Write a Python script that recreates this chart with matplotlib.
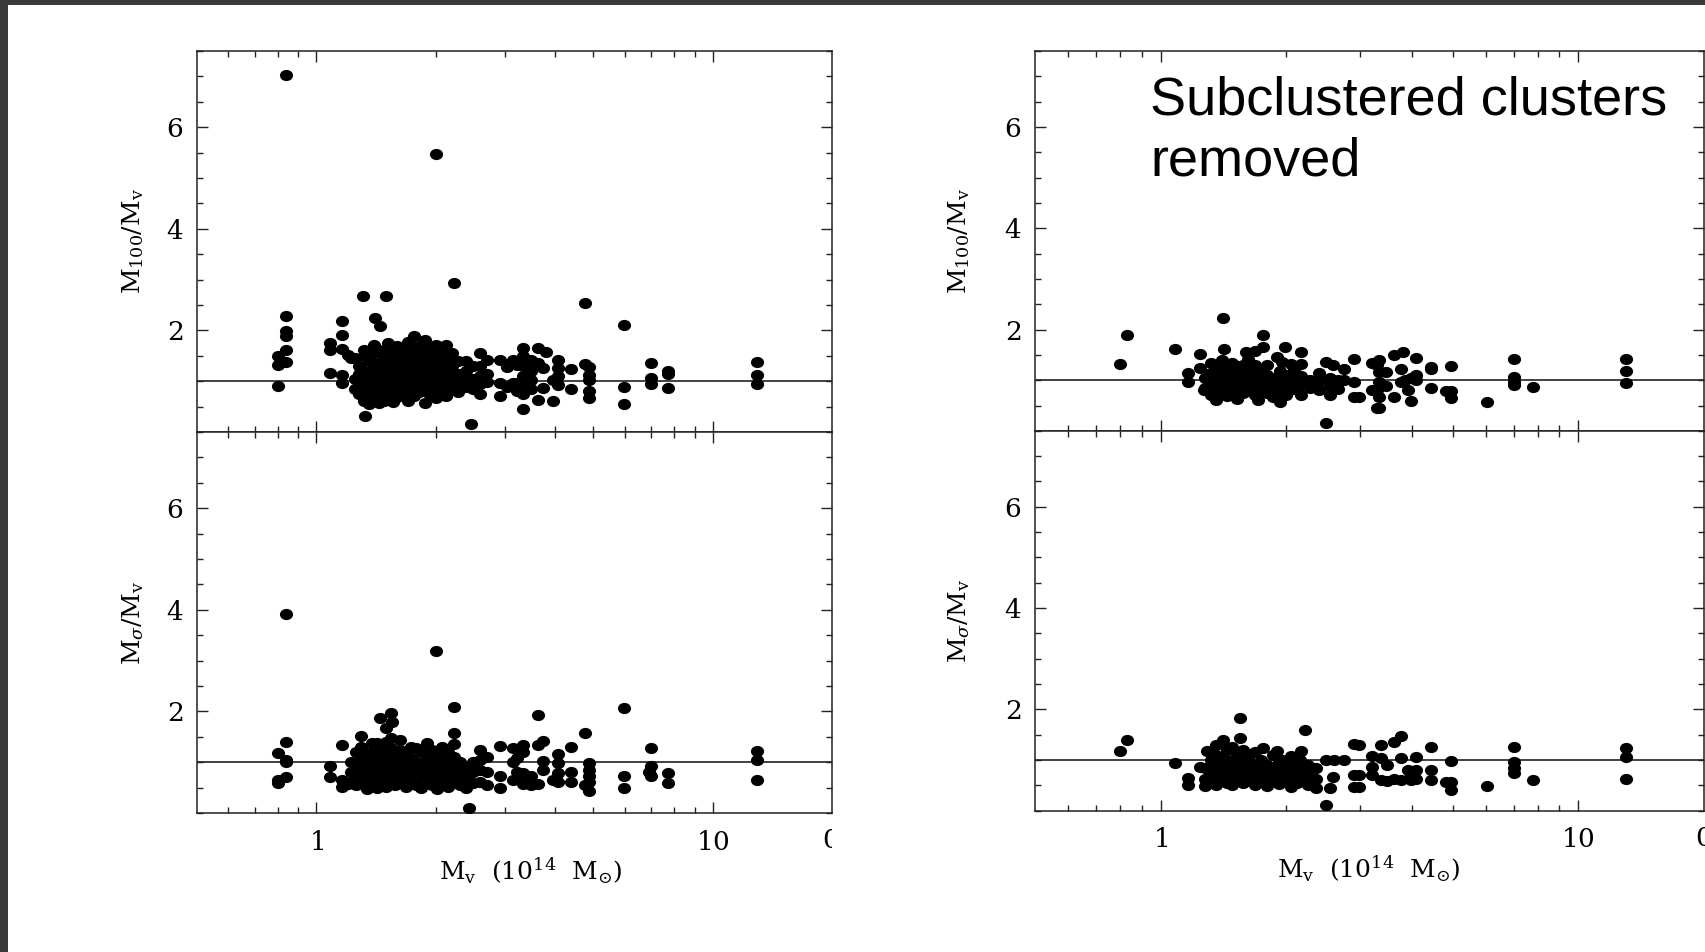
import numpy as np
import matplotlib
matplotlib.use("Agg")
import matplotlib.pyplot as plt
from matplotlib.path import Path
from matplotlib.patches import Rectangle
from matplotlib.ticker import FixedLocator, FixedFormatter, MultipleLocator, NullFormatter

plt.rcParams['mathtext.fontset'] = 'dejavuserif'
plt.rcParams['font.family'] = 'serif'
plt.rcParams['font.serif'] = ['DejaVu Serif']

# ---- data: (M_v [1e14 Msun], ratio) ----
# all clusters, M100/Mv
m100_all = [
    (0.80, 1.49), (0.80, 1.31), (0.80, 0.91),
    (0.84, 7.02), (0.84, 2.29), (0.84, 1.99), (0.84, 1.88), (0.84, 1.61), (0.84, 1.37),
    (1.08, 1.75), (1.08, 1.62), (1.08, 1.16),
    (1.16, 2.18), (1.16, 1.90), (1.16, 1.63), (1.16, 1.13), (1.16, 0.97),
    (1.20, 1.52), (1.22, 1.45),
    (1.31, 2.67), (1.50, 2.67), (1.41, 2.24), (1.45, 2.08), (1.33, 0.31),
    (2.00, 5.48), (2.22, 2.94), (2.45, 0.16), (4.77, 2.53), (5.98, 2.10),
    (1.25, 1.45), (1.25, 1.05), (1.25, 0.85),
    (1.28, 1.30), (1.28, 1.15), (1.28, 0.95), (1.28, 0.75),
    (1.32, 1.62), (1.32, 1.50), (1.32, 1.20), (1.32, 1.00), (1.32, 0.80), (1.32, 0.62),
    (1.36, 1.40), (1.36, 1.10), (1.36, 0.90), (1.36, 0.70), (1.36, 0.55),
    (1.40, 1.72), (1.40, 1.55), (1.40, 1.28), (1.40, 1.05), (1.40, 0.85), (1.40, 0.65),
    (1.44, 1.62), (1.44, 1.35), (1.44, 1.15), (1.44, 0.95), (1.44, 0.75), (1.44, 0.58),
    (1.48, 1.50), (1.48, 1.25), (1.48, 1.00), (1.48, 0.80), (1.48, 0.62),
    (1.52, 1.75), (1.52, 1.60), (1.52, 1.38), (1.52, 1.12), (1.52, 0.90), (1.52, 0.70),
    (1.56, 1.45), (1.56, 1.20), (1.56, 0.98), (1.56, 0.78), (1.56, 0.60),
    (1.60, 1.70), (1.60, 1.55), (1.60, 1.30), (1.60, 1.05), (1.60, 0.85), (1.60, 0.68),
    (1.65, 1.62), (1.65, 1.40), (1.65, 1.15), (1.65, 0.92), (1.65, 0.72),
    (1.70, 1.78), (1.70, 1.50), (1.70, 1.25), (1.70, 1.00), (1.70, 0.80), (1.70, 0.62),
    (1.76, 1.88), (1.76, 1.60), (1.76, 1.35), (1.76, 1.10), (1.76, 0.88), (1.76, 0.70),
    (1.82, 1.70), (1.82, 1.45), (1.82, 1.20), (1.82, 0.95), (1.82, 0.78),
    (1.88, 1.82), (1.88, 1.55), (1.88, 1.30), (1.88, 1.05), (1.88, 0.85), (1.88, 0.58),
    (1.94, 1.65), (1.94, 1.40), (1.94, 1.15), (1.94, 0.92), (1.94, 0.72),
    (2.00, 1.72), (2.00, 1.48), (2.00, 1.22), (2.00, 1.00), (2.00, 0.80), (2.00, 0.66),
    (2.06, 1.60), (2.06, 1.35), (2.06, 1.10), (2.06, 0.90), (2.06, 0.75),
    (2.12, 1.72), (2.12, 1.45), (2.12, 1.20), (2.12, 0.95), (2.12, 0.70),
    (2.20, 1.56), (2.20, 1.30), (2.20, 1.05), (2.20, 0.85),
    (2.28, 1.40), (2.28, 1.15), (2.28, 0.95), (2.28, 0.78),
    (2.38, 1.39), (2.38, 1.20), (2.38, 1.00), (2.38, 0.88),
    (2.48, 1.30), (2.48, 1.05), (2.48, 0.85),
    (2.59, 1.56), (2.59, 1.30), (2.59, 1.10), (2.59, 0.95), (2.59, 0.75),
    (2.70, 1.42), (2.70, 1.15), (2.70, 0.98),
    (2.90, 1.42), (2.90, 0.97), (2.90, 0.70),
    (3.14, 1.42), (3.14, 0.97),
    (3.02, 1.28), (3.02, 0.88),
    (3.20, 1.32), (3.20, 0.96), (3.20, 0.80),
    (3.32, 1.65), (3.32, 1.49), (3.32, 1.29), (3.32, 1.10), (3.32, 0.90), (3.32, 0.74), (3.32, 0.45),
    (3.49, 1.42), (3.49, 1.20), (3.49, 1.03), (3.49, 0.84),
    (3.62, 1.65), (3.62, 1.35), (3.62, 0.63),
    (3.73, 1.26), (3.73, 0.87), (3.80, 1.58),
    (3.95, 1.03), (3.95, 0.61),
    (4.07, 1.42), (4.07, 1.26), (4.07, 1.10), (4.07, 0.93),
    (4.40, 1.25), (4.40, 0.85),
    (4.77, 1.33), (4.88, 1.28), (4.88, 1.13), (4.88, 1.03), (4.88, 0.80), (4.88, 0.67),
    (5.98, 0.88), (5.98, 0.55),
    (6.98, 1.35), (6.98, 1.06), (6.98, 0.95),
    (7.73, 1.21), (7.73, 1.14), (7.73, 0.87),
    (12.9, 1.38), (12.9, 1.13), (12.9, 0.95),
]

# all clusters, Msigma/Mv
msig_all = [
    (0.80, 1.19), (0.80, 0.65), (0.80, 0.60),
    (0.84, 3.92), (0.84, 1.39), (0.84, 1.05), (0.84, 1.00), (0.84, 0.71),
    (1.08, 0.93), (1.08, 0.71),
    (1.16, 1.34), (1.16, 0.65), (1.16, 0.52), (1.20, 0.58),
    (2.00, 3.19), (2.22, 2.08), (2.22, 1.58), (2.43, 0.09), (3.62, 1.92), (5.98, 2.06), (4.77, 1.57),
    (1.45, 1.87), (1.54, 1.97), (1.55, 1.80), (1.50, 1.67),
    (1.22, 1.00), (1.22, 0.80), (1.22, 0.62),
    (1.26, 1.20), (1.26, 0.95), (1.26, 0.70), (1.26, 0.55),
    (1.30, 1.51), (1.30, 1.30), (1.30, 1.05), (1.30, 0.85), (1.30, 0.62),
    (1.34, 1.15), (1.34, 0.92), (1.34, 0.72), (1.34, 0.48),
    (1.38, 1.38), (1.38, 1.20), (1.38, 1.00), (1.38, 0.80), (1.38, 0.58),
    (1.42, 1.38), (1.42, 1.10), (1.42, 0.88), (1.42, 0.65), (1.42, 0.50),
    (1.46, 1.25), (1.46, 1.02), (1.46, 0.80), (1.46, 0.60),
    (1.50, 1.40), (1.50, 1.15), (1.50, 0.92), (1.50, 0.70), (1.50, 0.52),
    (1.54, 1.47), (1.54, 1.28), (1.54, 1.05), (1.54, 0.85), (1.54, 0.62),
    (1.58, 1.20), (1.58, 0.98), (1.58, 0.75), (1.58, 0.55),
    (1.63, 1.44), (1.63, 1.25), (1.63, 1.05), (1.63, 0.85), (1.63, 0.65),
    (1.68, 1.15), (1.68, 0.92), (1.68, 0.72), (1.68, 0.52),
    (1.73, 1.30), (1.73, 1.08), (1.73, 0.85), (1.73, 0.62),
    (1.78, 1.28), (1.78, 1.00), (1.78, 0.78), (1.78, 0.56),
    (1.84, 1.20), (1.84, 0.95), (1.84, 0.72), (1.84, 0.50),
    (1.90, 1.38), (1.90, 1.10), (1.90, 0.88), (1.90, 0.66),
    (1.96, 1.25), (1.96, 1.00), (1.96, 0.78), (1.96, 0.55),
    (2.02, 1.15), (2.02, 0.92), (2.02, 0.70), (2.02, 0.48),
    (2.08, 1.30), (2.08, 1.05), (2.08, 0.82), (2.08, 0.60),
    (2.15, 1.20), (2.15, 0.95), (2.15, 0.72), (2.15, 0.52),
    (2.22, 1.35), (2.22, 1.10), (2.22, 0.85), (2.22, 0.65),
    (2.30, 1.00), (2.30, 0.78), (2.30, 0.55),
    (2.38, 0.92), (2.38, 0.70), (2.38, 0.50),
    (2.49, 1.01), (2.49, 0.80), (2.49, 0.60),
    (2.59, 1.24), (2.59, 1.05), (2.59, 0.85), (2.59, 0.62),
    (2.70, 1.10), (2.70, 0.80), (2.70, 0.55),
    (2.90, 1.31), (2.90, 0.72), (2.90, 0.49),
    (3.14, 1.28), (3.14, 1.01), (3.14, 0.65),
    (3.20, 1.08), (3.20, 0.80),
    (3.32, 1.34), (3.32, 1.21), (3.32, 0.78), (3.32, 0.65), (3.32, 0.58),
    (3.49, 0.72), (3.49, 0.55),
    (3.62, 1.34), (3.62, 0.58),
    (3.73, 1.42), (3.73, 1.03), (3.73, 0.85),
    (3.95, 0.65),
    (4.07, 1.16), (4.07, 0.98), (4.07, 0.78), (4.07, 0.62),
    (4.40, 1.29), (4.40, 0.81), (4.40, 0.62),
    (4.88, 0.98), (4.88, 0.85), (4.88, 0.72), (4.77, 0.55), (4.88, 0.43), (4.88, 0.62),
    (5.98, 0.72), (5.98, 0.49),
    (6.98, 1.28), (6.98, 0.92), (6.90, 0.81), (6.98, 0.72),
    (7.73, 0.79), (7.73, 0.59),
    (12.9, 1.23), (12.9, 1.05), (12.9, 0.64),
]

# subclustered clusters removed, M100/Mv
m100_sub = [
    (0.80, 1.32), (0.83, 1.90), (1.08, 1.62),
    (1.16, 1.14), (1.16, 0.97), (1.24, 1.52), (1.24, 1.24),
    (1.41, 2.24), (1.76, 1.89),
    (1.42, 1.62), (1.60, 1.56), (1.68, 1.57), (1.76, 1.65), (1.98, 1.65),
    (2.17, 1.56), (2.17, 1.32), (1.90, 1.47), (1.95, 1.37), (2.05, 1.32),
    (2.49, 1.37), (2.58, 1.30), (2.75, 1.22), (2.91, 1.43), (2.91, 0.97), (2.91, 0.68), (2.49, 0.16),
    (3.30, 1.30), (3.30, 0.81), (3.30, 0.45),
    (1.71, 0.62), (1.93, 0.58), (1.36, 0.62), (1.52, 0.64), (1.27, 0.81),
    (1.28, 1.05), (1.28, 0.85),
    (1.32, 1.35), (1.32, 1.15), (1.32, 0.95), (1.32, 0.72),
    (1.36, 1.25), (1.36, 1.05), (1.36, 0.85),
    (1.40, 1.40), (1.40, 1.18), (1.40, 0.98), (1.40, 0.78),
    (1.44, 1.30), (1.44, 1.10), (1.44, 0.90), (1.44, 0.70),
    (1.48, 1.35), (1.48, 1.20), (1.48, 1.00), (1.48, 0.80),
    (1.52, 1.28), (1.52, 1.08), (1.52, 0.88),
    (1.57, 1.30), (1.57, 1.12), (1.57, 0.92), (1.57, 0.75),
    (1.62, 1.42), (1.62, 1.20), (1.62, 1.00), (1.62, 0.82),
    (1.68, 1.30), (1.68, 1.08), (1.68, 0.90), (1.68, 0.72),
    (1.74, 1.22), (1.74, 1.02), (1.74, 0.85),
    (1.80, 1.30), (1.80, 1.10), (1.80, 0.92), (1.80, 0.75),
    (1.86, 1.05), (1.86, 0.85), (1.86, 0.68),
    (1.93, 1.18), (1.93, 0.98), (1.93, 0.80),
    (2.00, 1.10), (2.00, 0.90), (2.00, 0.72),
    (2.08, 1.20), (2.08, 1.00), (2.08, 0.82),
    (2.17, 1.08), (2.17, 0.90), (2.17, 0.72),
    (2.28, 1.00), (2.28, 0.85),
    (2.40, 1.15), (2.40, 0.98), (2.40, 0.80),
    (2.55, 1.05), (2.55, 0.88), (2.55, 0.72),
    (2.66, 1.00), (2.66, 0.82), (2.75, 1.00),
    (13.0, 1.43), (13.0, 1.18), (13.0, 0.95),
    (7.00, 1.42), (7.00, 1.07), (7.00, 0.97), (7.00, 0.91),
    (7.80, 0.86), (6.04, 0.57),
    (4.97, 1.28), (4.97, 0.79), (4.97, 0.65), (4.81, 0.79),
    (4.43, 1.27), (4.43, 1.22), (4.43, 0.85),
    (4.08, 1.45), (4.08, 1.10), (4.08, 1.00), (3.97, 0.59),
    (3.80, 1.55), (3.62, 1.50), (3.76, 1.23),
    (3.33, 1.40), (3.21, 1.34), (3.33, 1.17), (3.46, 1.17), (3.33, 0.97), (3.46, 0.88),
    (3.21, 0.81), (3.33, 0.68), (3.33, 0.46), (3.62, 0.68), (3.76, 0.97), (3.90, 0.81),
    (3.85, 1.00), (3.97, 1.05), (2.99, 0.68),
]

# subclustered clusters removed, Msigma/Mv
msig_sub = [
    (0.83, 1.40), (0.80, 1.18), (1.08, 0.93), (1.55, 1.82), (2.22, 1.59),
    (2.91, 1.32), (2.49, 0.11), (1.16, 0.64), (1.16, 0.51),
    (1.41, 1.39), (1.36, 1.30), (1.55, 1.44), (1.76, 1.23), (1.90, 1.17), (2.17, 1.18),
    (1.95, 1.00), (2.15, 1.00), (1.29, 1.17), (1.24, 0.87),
    (2.49, 1.00), (2.60, 1.00), (2.75, 1.00), (2.91, 0.70), (2.91, 0.47), (2.55, 0.44), (2.58, 0.67),
    (1.28, 0.85), (1.28, 0.62), (1.28, 0.48),
    (1.32, 1.00), (1.32, 0.78), (1.32, 0.58),
    (1.36, 1.10), (1.36, 0.90), (1.36, 0.70), (1.36, 0.50),
    (1.40, 1.05), (1.40, 0.85), (1.40, 0.65),
    (1.44, 1.20), (1.44, 1.00), (1.44, 0.78), (1.44, 0.55),
    (1.48, 1.25), (1.48, 0.92), (1.48, 0.70), (1.48, 0.50),
    (1.52, 1.10), (1.52, 0.85), (1.52, 0.62),
    (1.57, 1.20), (1.57, 1.00), (1.57, 0.78), (1.57, 0.55),
    (1.62, 1.05), (1.62, 0.85), (1.62, 0.65),
    (1.68, 1.15), (1.68, 0.92), (1.68, 0.72), (1.68, 0.50),
    (1.74, 1.00), (1.74, 0.80), (1.74, 0.58),
    (1.80, 0.90), (1.80, 0.70), (1.80, 0.48),
    (1.86, 1.10), (1.86, 0.85), (1.86, 0.62),
    (1.92, 0.95), (1.92, 0.72), (1.92, 0.52),
    (1.98, 0.80), (1.98, 0.58),
    (2.05, 1.08), (2.05, 0.88), (2.05, 0.66), (2.05, 0.46),
    (2.12, 0.95), (2.12, 0.75), (2.12, 0.55),
    (2.17, 0.82), (2.17, 0.62),
    (2.25, 0.90), (2.25, 0.70), (2.25, 0.50),
    (2.35, 0.85), (2.35, 0.62), (2.35, 0.45),
    (13.0, 1.23), (13.0, 1.05), (13.0, 0.62),
    (7.00, 1.26), (7.00, 0.95), (7.00, 0.84), (7.00, 0.74),
    (7.80, 0.60), (6.04, 0.49),
    (4.97, 0.97), (4.97, 0.56), (4.97, 0.40), (4.81, 0.56),
    (4.43, 1.26), (4.43, 0.80), (4.43, 0.60),
    (4.08, 1.05), (4.08, 0.80), (4.08, 0.62), (3.97, 0.60),
    (3.76, 1.47), (3.62, 1.36),
    (3.37, 1.30), (3.21, 1.07), (3.37, 1.03), (3.76, 1.03), (3.21, 0.87), (3.49, 0.90),
    (3.21, 0.70), (3.37, 0.60), (3.49, 0.58), (3.62, 0.62), (3.76, 0.60), (3.90, 0.80),
    (3.97, 0.70), (2.99, 1.30), (2.99, 0.70), (2.99, 0.47),
]

ylabels = [r'$\mathrm{M_{100}/M_v}$', r'$\mathrm{M}_{\sigma}/\mathrm{M_v}$']
xlabel = r'$\mathrm{M_v\ \ (10^{14}\ \ M_{\odot})}$'
note = 'Subclustered clusters\nremoved'

minor_x = [0.6, 0.7, 0.8, 0.9, 2, 3, 4, 5, 6, 7, 8, 9]

W, H = 1706, 952
fig = plt.figure(figsize=(W / 100, H / 100), dpi=100)
fig.patch.set_facecolor('white')

# dark frame of the slide (top and left strips)
fig.patches.append(Rectangle((0, 1 - 5 / H), 1, 5 / H, transform=fig.transFigure,
                             facecolor='#3a3a3a', edgecolor='none', zorder=0))
fig.patches.append(Rectangle((0, 0), 8 / W, 1, transform=fig.transFigure,
                             facecolor='#3a3a3a', edgecolor='none', zorder=0))

circ = Path.unit_circle()
dot = Path(circ.vertices * np.array([1.0, 0.85]), circ.codes)


def style_axes(ax, ylab, bottom_panel, lab_x, xlab_x):
    ax.set_xscale('log')
    ax.set_xlim(0.5, 20)
    ax.set_ylim(0, 7.5)
    ax.axhline(1.0, color='#333333', lw=1.3, zorder=1)
    ax.xaxis.set_major_locator(FixedLocator([1, 10]))
    ax.xaxis.set_major_formatter(FixedFormatter([r'$1$', r'$10$']))
    ax.xaxis.set_minor_locator(FixedLocator(minor_x))
    ax.xaxis.set_minor_formatter(NullFormatter())
    ax.yaxis.set_major_locator(FixedLocator([2, 4, 6]))
    ax.yaxis.set_major_formatter(FixedFormatter([r'$2$', r'$4$', r'$6$']))
    ax.yaxis.set_minor_locator(MultipleLocator(0.5))
    ax.tick_params(which='both', direction='in', top=True, right=True,
                   color='#222222', width=1.0, labelsize=19)
    ax.tick_params(which='major', length=8)
    ax.tick_params(which='minor', length=4.5)
    ax.tick_params(axis='y', pad=10)
    ax.tick_params(axis='x', pad=12)
    for s in ax.spines.values():
        s.set_linewidth(1.1)
        s.set_color('#222222')
    ax.set_ylabel(ylab, fontsize=18, va='center')
    ax.yaxis.set_label_coords(lab_x, 0.5)
    if bottom_panel:
        ax.set_xlabel(xlabel, fontsize=18, va='center')
        ax.xaxis.set_label_coords(xlab_x, -0.152)
    else:
        ax.tick_params(labelbottom=False)


panels = [
    ([197 / W, 1 - 432 / H, 635 / W, 381 / H], m100_all, ylabels[0], False, -0.101, 0.526),
    ([197 / W, 1 - 813 / H, 635 / W, 381 / H], msig_all, ylabels[1], True, -0.101, 0.526),
    ([1035 / W, 1 - 431 / H, 669 / W, 380 / H], m100_sub, ylabels[0], False, -0.113, 0.499),
    ([1035 / W, 1 - 810.6 / H, 669 / W, 380 / H], msig_sub, ylabels[1], True, -0.113, 0.499),
]

for rect, pts, ylab, bottom_panel, lab_x, xlab_x in panels:
    ax = fig.add_axes(rect)
    xs = [p[0] for p in pts]
    ys = [p[1] for p in pts]
    ax.scatter(xs, ys, s=90, marker=dot, color='black', linewidths=0, zorder=3)
    style_axes(ax, ylab, bottom_panel, lab_x, xlab_x)

fig.text(1150 / W, 1 - 76 / H, note, fontsize=39, family=['Liberation Sans', 'DejaVu Sans'],
         ha='left', va='top', linespacing=1.27)

# cut-off tick labels at the right edge of each panel (cropped source)
t = fig.text(831 / W, 1 - 841 / H, r'$0$', fontsize=19, ha='center', va='center')
t.set_clip_path(Rectangle((0, 0), 832 / W, 1, transform=fig.transFigure))
fig.text(1704 / W, 1 - 838 / H, r'$0$', fontsize=19, ha='center', va='center')

fig.savefig('out.png', dpi=100)
